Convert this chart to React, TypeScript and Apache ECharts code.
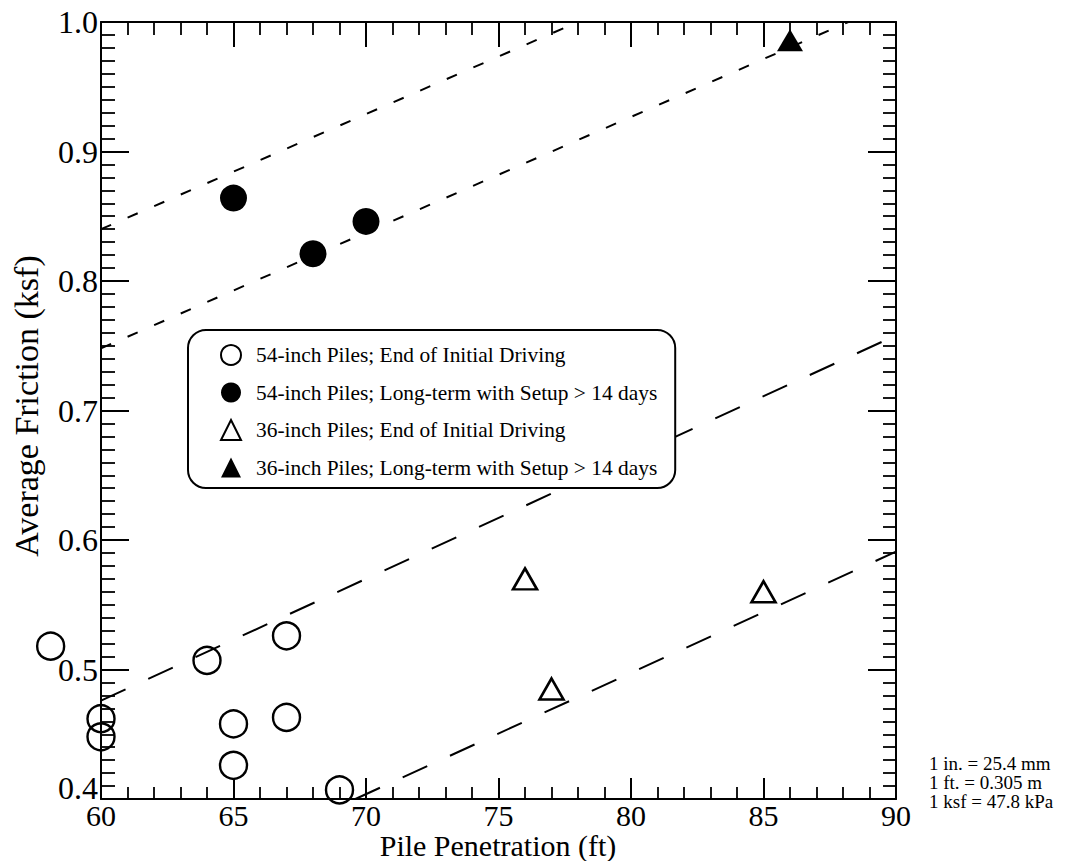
import React, { useEffect, useRef } from 'react';
import * as echarts from 'echarts';

const FONT = 'Liberation Serif';

const seriesNames = [
  '54-inch Piles; End of Initial Driving',
  '54-inch Piles; Long-term with Setup > 14 days',
  '36-inch Piles; End of Initial Driving',
  '36-inch Piles; Long-term with Setup > 14 days',
];

// 54-inch piles, end of initial driving (open circles)
const eoid54: [number, number][] = [
  [58.1, 0.518], [60, 0.462], [60, 0.448], [64, 0.507], [65, 0.458],
  [65, 0.426], [67, 0.526], [67, 0.463], [69, 0.407],
];
// 54-inch piles, long-term (filled circles)
const longterm54: [number, number][] = [[65, 0.864], [68, 0.821], [70, 0.846]];
// 36-inch piles, end of initial driving (open triangles)
const eoid36: [number, number][] = [[76, 0.57], [77, 0.485], [85, 0.56]];
// 36-inch piles, long-term (filled triangle)
const longterm36: [number, number][] = [[86, 0.986]];

// trend lines
const trendUpperA: [number, number][] = [[60, 0.84], [78, 1.0]];
const trendUpperB: [number, number][] = [[60, 0.748], [88.2, 1.0]];
const trendLowerA: [number, number][] = [[60, 0.476], [90, 0.758]];
const trendLowerB: [number, number][] = [[69.6, 0.4], [90, 0.591]];

const xTitle = 'Pile Penetration (ft)';
const yTitle = 'Average Friction (ksf)';
const unitsNote = ['1 in. = 25.4 mm', '1 ft. = 0.305 m', '1 ksf = 47.8 kPa'];

export default function App() {
  const ref = useRef<HTMLDivElement>(null);

  useEffect(() => {
    const chart = echarts.init(ref.current!, null, { renderer: 'svg' });

    const lineStyle = { color: '#000', width: 2 };
    const minorStyle = { color: '#000', width: 1.8 };
    const xBase = {
      type: 'value',
      min: 60,
      max: 90,
      interval: 5,
      axisLine: { show: true, onZero: false, lineStyle },
      splitLine: { show: false },
      minorSplitLine: { show: false },
    };
    const yBase = {
      type: 'value',
      min: 0.4,
      max: 1.0,
      interval: 0.1,
      axisLine: { show: true, onZero: false, lineStyle },
      splitLine: { show: false },
      minorSplitLine: { show: false },
    };

    const trend = (data: [number, number][], dash: number[]) => ({
      type: 'line',
      data,
      showSymbol: false,
      symbol: 'none',
      silent: true,
      z: 1,
      lineStyle: { color: '#000', width: 2, type: dash },
    });

    const option: any = {
      animation: false,
      backgroundColor: '#fff',
      grid: { left: 101, right: 179, top: 22, bottom: 62, containLabel: false },
      xAxis: [
        {
          ...xBase,
          position: 'bottom',
          axisTick: { show: true, inside: true, length: 21, lineStyle },
          minorTick: { show: true, splitNumber: 5, length: 12, lineStyle: minorStyle },
          axisLabel: { color: '#000', fontFamily: FONT, fontSize: 30, margin: 1 },
        },
        {
          ...xBase,
          position: 'top',
          axisTick: { show: true, inside: true, length: 25, lineStyle },
          minorTick: { show: true, splitNumber: 5, length: 13, lineStyle: minorStyle },
          axisLabel: { show: false },
        },
      ],
      yAxis: [
        {
          ...yBase,
          position: 'left',
          axisTick: { show: true, inside: true, length: 28, lineStyle },
          minorTick: { show: true, splitNumber: 10, length: 14, lineStyle: minorStyle },
          axisLabel: {
            color: '#000',
            fontFamily: FONT,
            fontSize: 32,
            margin: 3,
            formatter: (v: number) =>
              Math.abs(v - 0.4) < 1e-9 ? '{low|0.4}' : v.toFixed(1),
            rich: {
              low: {
                fontFamily: FONT,
                fontSize: 32,
                color: '#000',
                padding: [0, 0, 22, 0],
              },
            },
          },
        },
        {
          ...yBase,
          position: 'right',
          axisTick: { show: true, inside: true, length: 28, lineStyle },
          minorTick: { show: true, splitNumber: 10, length: 13, lineStyle: minorStyle },
          axisLabel: { show: false },
        },
      ],
      legend: {
        data: seriesNames,
        orient: 'vertical',
        left: 188,
        top: 330,
        padding: [14, 18, 10, 32],
        itemGap: 16,
        itemWidth: 20,
        itemHeight: 20,
        borderColor: '#000',
        borderWidth: 2,
        borderRadius: 18,
        backgroundColor: '#fff',
        selectedMode: false,
        textStyle: {
          fontFamily: FONT,
          fontSize: 21.4,
          lineHeight: 21,
          color: '#000',
          padding: [0, 0, 0, 10],
        },
      },
      series: [
        trend(trendUpperA, [11, 18]),
        trend(trendUpperB, [11, 18]),
        trend(trendLowerA, [27, 25]),
        trend(trendLowerB, [27, 25]),
        {
          name: seriesNames[0],
          type: 'scatter',
          data: eoid54,
          symbol: 'circle',
          symbolSize: 27,
          clip: false,
          z: 3,
          itemStyle: { color: 'rgba(255,255,255,0)', borderColor: '#000', borderWidth: 2.4, opacity: 1 },
        },
        {
          name: seriesNames[1],
          type: 'scatter',
          data: longterm54,
          symbol: 'circle',
          symbolSize: 27,
          z: 3,
          itemStyle: { color: '#000', borderColor: '#000', borderWidth: 0, opacity: 1 },
        },
        {
          name: seriesNames[2],
          type: 'scatter',
          data: eoid36,
          symbol: 'triangle',
          symbolSize: [24, 21],
          z: 3,
          itemStyle: { color: 'rgba(255,255,255,0)', borderColor: '#000', borderWidth: 2.6, opacity: 1 },
        },
        {
          name: seriesNames[3],
          type: 'scatter',
          data: longterm36,
          symbol: 'triangle',
          symbolSize: [26, 22],
          clip: false,
          z: 3,
          itemStyle: { color: '#000', borderColor: '#000', borderWidth: 0, opacity: 1 },
        },
      ],
      graphic: [
        {
          type: 'text',
          x: 498,
          y: 845,
          style: {
            text: xTitle,
            fontFamily: FONT,
            fontSize: 30,
            fill: '#000',
            align: 'center',
            verticalAlign: 'middle',
          },
        },
        {
          type: 'text',
          x: 26,
          y: 406,
          rotation: Math.PI / 2,
          style: {
            text: yTitle,
            fontFamily: FONT,
            fontSize: 34,
            fill: '#000',
            align: 'center',
            verticalAlign: 'middle',
          },
        },
        {
          type: 'text',
          x: 929,
          y: 782,
          style: {
            text: unitsNote.join('\n'),
            fontFamily: FONT,
            fontSize: 19,
            lineHeight: 19,
            fill: '#000',
            align: 'left',
            verticalAlign: 'middle',
          },
        },
      ],
    };

    chart.setOption(option);
    return () => chart.dispose();
  }, []);

  return (
    <div
      ref={ref}
      style={{ position: 'absolute', left: 0, top: 0, width: 1075, height: 861, background: '#fff' }}
    />
  );
}
